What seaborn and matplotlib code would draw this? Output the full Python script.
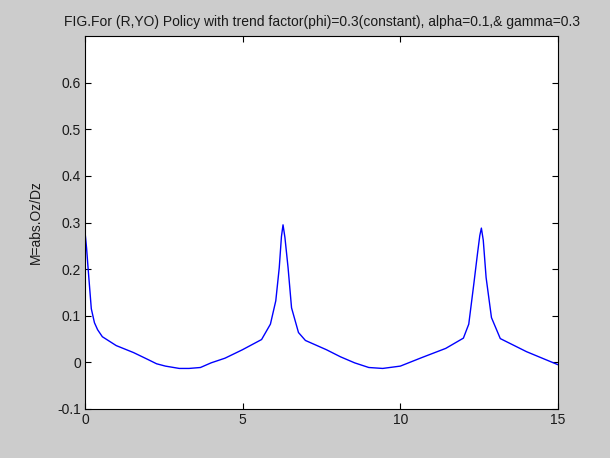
import matplotlib
matplotlib.use("Agg")
import matplotlib.pyplot as plt
import numpy as np
import pandas as pd
import seaborn as sns

# Frequency samples (rad) and the magnitude ratio M = |Oz/Dz|
freq = [0.0, 0.05, 0.10, 0.20, 0.30, 0.40, 0.55, 0.99, 1.54, 2.00, 2.27, 2.55,
        2.99, 3.30, 3.66, 4.00, 4.44, 4.99, 5.60, 5.88, 6.05, 6.16, 6.23,
        6.28, 6.34, 6.44, 6.55, 6.77, 6.99, 7.66, 8.10, 8.55, 9.00, 9.44,
        10.00, 10.67, 11.44, 12.00, 12.17, 12.33, 12.45, 12.52, 12.57, 12.63,
        12.72, 12.89, 13.17, 14.00, 14.57, 15.00]
magnitude = [0.280, 0.245, 0.200, 0.115, 0.085, 0.070, 0.055, 0.036, 0.021,
             0.006, -0.003, -0.008, -0.013, -0.013, -0.011, -0.001, 0.009,
             0.027, 0.049, 0.082, 0.132, 0.203, 0.270, 0.295, 0.268, 0.203,
             0.117, 0.064, 0.047, 0.027, 0.012, -0.001, -0.011, -0.013,
             -0.008, 0.010, 0.030, 0.052, 0.082, 0.168, 0.235, 0.272, 0.288,
             0.262, 0.182, 0.096, 0.051, 0.023, 0.007, -0.005]

x_ticks = [0, 5, 10, 15]
y_ticks = [-0.1, 0.0, 0.1, 0.2, 0.3, 0.4, 0.5, 0.6]
y_tick_labels = ["-0.1", "0", "0.1", "0.2", "0.3", "0.4", "0.5", "0.6"]

title_text = ("FIG.For (R,YO) Policy with trend factor(phi)=0.3(constant), "
              "alpha=0.1,& gamma=0.3")
ylabel_text = "M=abs.Oz/Dz"

sns.set_style("white")
plt.rcParams["font.family"] = ["Liberation Sans", "DejaVu Sans"]

df = pd.DataFrame({"w": freq, "M": magnitude})

fig = plt.figure(figsize=(6.10, 4.58), dpi=100, facecolor="#cccccc")
ax = fig.add_axes([85 / 610, 1 - 409 / 458, 473 / 610, 373 / 458])
ax.set_facecolor("white")

sns.lineplot(data=df, x="w", y="M", ax=ax, color="#0000ff", linewidth=1.0,
             estimator=None, sort=False)

ax.set_xlim(0, 15)
ax.set_ylim(-0.1, 0.7)
ax.set_xticks(x_ticks)
ax.set_xticklabels([str(t) for t in x_ticks])
ax.set_yticks(y_ticks)
ax.set_yticklabels(y_tick_labels)

ax.tick_params(axis="both", direction="in", length=4, width=0.8,
               color="black", labelsize=10, labelcolor="#1a1a1a",
               top=True, right=True, bottom=True, left=True, pad=3)
for side in ax.spines.values():
    side.set_visible(True)
    side.set_color("black")
    side.set_linewidth(0.8)

ax.set_xlabel("")
ax.set_ylabel(ylabel_text, fontsize=10, labelpad=10, color="#1a1a1a")
ax.set_title(title_text, fontsize=10, pad=7, color="#1a1a1a")

fig.savefig("out.png", dpi=100, facecolor=fig.get_facecolor())
